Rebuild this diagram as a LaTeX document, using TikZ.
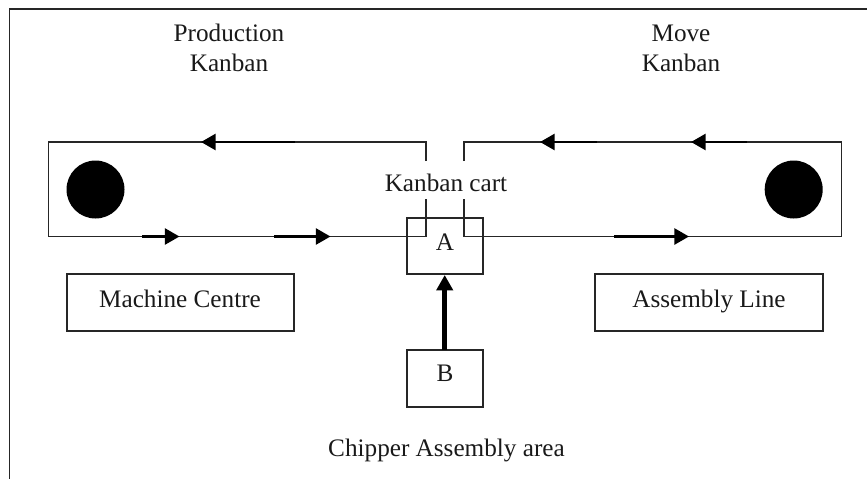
\documentclass[tikz,border=0pt]{standalone}
\usepackage{fontspec}
\setmainfont{Liberation Serif}
\usetikzlibrary{arrows.meta}
\tikzset{
  lbl/.style={anchor=base,inner sep=0pt,outer sep=0pt,font=\fontsize{18.9pt}{22.5pt}\selectfont,text=black!90},
  boxnode/.style={draw=black!85,line width=1.5pt,inner sep=0pt,outer sep=0pt,font=\fontsize{18.9pt}{22.5pt}\selectfont,text=black!90},
  loopline/.style={draw=black!85,line width=1.4pt,line join=miter},
  flow/.style={draw=black,line width=2pt,-{Triangle[length=11pt,width=12pt]}},
  feed/.style={draw=black,line width=3.8pt,-{Triangle[length=11.5pt,width=12pt]},shorten >=0.5pt},
  token/.style={circle,fill=black,draw=none,minimum size=43.5pt,inner sep=0pt,outer sep=0pt},
}
\begin{document}
\begin{tikzpicture}[x=0.75pt,y=-0.75pt]
\useasboundingbox (0,0) rectangle (867,479);
% frame
\coordinate (frTR) at (867,9);
\coordinate (frTL) at (9.5,9);
\coordinate (frBL) at (9.5,479);
\draw[draw=black!85,line width=1.4pt] (frTR) -- (frTL) -- (frBL);
% boxes
\node[boxnode,minimum width=57pt,minimum height=42.5pt] (A) at (444.7,246) {};
\node[boxnode,minimum width=57pt,minimum height=42.5pt] (B) at (444.7,378.3) {};
\node[boxnode,minimum width=170.5pt,minimum height=42.5pt] (MC) at (180.5,302.3) {};
\node[boxnode,minimum width=170.5pt,minimum height=42.5pt] (AL) at (709,302.3) {};
% texts
\node[lbl] (t1) at (229,41) {Production};
\node[lbl] (t2) at (229,71) {Kanban};
\node[lbl] (t3) at (681,41) {Move};
\node[lbl] (t4) at (681,71) {Kanban};
\node[lbl] (cart) at (446,191.5) {Kanban cart};
\node[lbl] (tA) at (445,250) {A};
\node[lbl] (tB) at (445,381.5) {B};
\node[lbl] (tMC) at (180,307) {Machine Centre};
\node[lbl] (tAL) at (709,307) {Assembly Line};
\node[lbl] (tCh) at (446.5,456) {Chipper Assembly area};
% tokens
\node[token] (dotL) at (95.5,189.5) {};
\node[token] (dotR) at (793.7,189.5) {};
% left loop
\coordinate (la) at (426,161);
\coordinate (lb) at (426,142);
\coordinate (lc) at (48.5,142);
\coordinate (ld) at (48.5,236.5);
\coordinate (le) at (426,236.5);
\coordinate (lf) at (426,199);
\draw[loopline] (la) -- (lb) -- (lc) -- (ld) -- (le) -- (lf);
% right loop
\coordinate (ra) at (463.7,161);
\coordinate (rb) at (463.7,142);
\coordinate (rc) at (841.5,142);
\coordinate (rd) at (841.5,236.5);
\coordinate (re) at (463.7,236.5);
\coordinate (rf) at (463.7,199);
\draw[loopline] (ra) -- (rb) -- (rc) -- (rd) -- (re) -- (rf);
% flow arrows
\coordinate (a1s) at (295,142); \coordinate (a1e) at (201,142);
\coordinate (a2s) at (142,236.5); \coordinate (a2e) at (179.5,236.5);
\coordinate (a3s) at (274,236.5); \coordinate (a3e) at (330.5,236.5);
\coordinate (a4s) at (597,142); \coordinate (a4e) at (540,142);
\coordinate (a5s) at (747,142); \coordinate (a5e) at (691,142);
\coordinate (a6s) at (614,236.5); \coordinate (a6e) at (689,236.5);
\draw[flow] (a1s) -- (a1e);
\draw[flow] (a2s) -- (a2e);
\draw[flow] (a3s) -- (a3e);
\draw[flow] (a4s) -- (a4e);
\draw[flow] (a5s) -- (a5e);
\draw[flow] (a6s) -- (a6e);
% feed arrow
\draw[feed] (B.north) -- (A.south);
\end{tikzpicture}
\end{document}
